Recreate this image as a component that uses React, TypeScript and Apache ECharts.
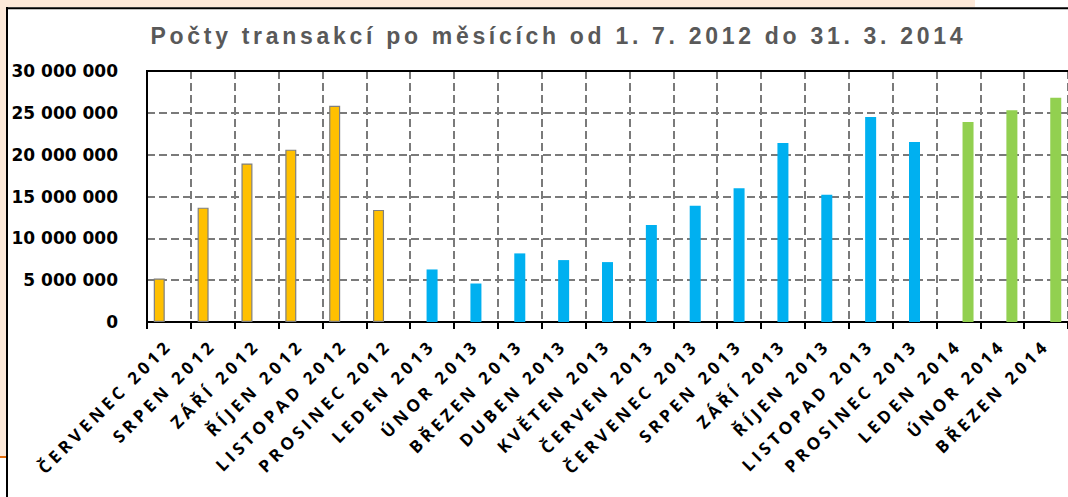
import React, { useEffect, useRef } from "react";
import * as echarts from "echarts";

const TITLE = "Počty transakcí po měsících od 1. 7. 2012 do 31. 3. 2014";

const categories = [
  "ČERVENEC 2012", "SRPEN 2012", "ZÁŘÍ 2012", "ŘÍJEN 2012", "LISTOPAD 2012", "PROSINEC 2012",
  "LEDEN 2013", "ÚNOR 2013", "BŘEZEN 2013", "DUBEN 2013", "KVĚTEN 2013", "ČERVEN 2013",
  "ČERVENEC 2013", "SRPEN 2013", "ZÁŘÍ 2013", "ŘÍJEN 2013", "LISTOPAD 2013", "PROSINEC 2013",
  "LEDEN 2014", "ÚNOR 2014", "BŘEZEN 2014",
];

// Jul–Dec 2012
const values2012 = [5200000, 13670000, 18950000, 20600000, 25850000, 13400000];
// Jan–Dec 2013
const values2013 = [6280000, 4600000, 8200000, 7400000, 7160000, 11600000, 13900000, 16000000, 21400000, 15200000, 24500000, 21500000];
// Jan–Mar 2014
const values2014 = [23900000, 25300000, 26800000];

const yTicks = [0, 5000000, 10000000, 15000000, 20000000, 25000000, 30000000];

const pad = (n: number) => Array(n).fill(null);

function fmt(v: number) {
  return String(v).replace(/\B(?=(\d{3})+(?!\d))/g, " ");
}

export default function App() {
  const ref = useRef<HTMLDivElement>(null);

  useEffect(() => {
    document.body.style.margin = "0";
    document.body.style.overflow = "hidden";
    if (!ref.current) return;
    const chart = echarts.init(ref.current, null, { renderer: "svg" });
    const n = categories.length;
    const s1 = [...values2012, ...pad(n - values2012.length)];
    const s2 = [...pad(values2012.length), ...values2013, ...pad(n - values2012.length - values2013.length)];
    const s3 = [...pad(n - values2014.length), ...values2014];

    chart.setOption({
      animation: false,
      backgroundColor: "#ffffff",
      graphic: [
        { type: "rect", shape: { x: 0, y: 0, width: 975, height: 7 }, style: { fill: "#fde9d9" }, silent: true },
        { type: "rect", shape: { x: 0, y: 0, width: 6, height: 456 }, style: { fill: "#fde9d9" }, silent: true },
        { type: "rect", shape: { x: 0, y: 456, width: 6, height: 2 }, style: { fill: "#e46c0a" }, silent: true },
        { type: "line", shape: { x1: 6, y1: 8.2, x2: 1068, y2: 8.2 }, style: { stroke: "#000000", lineWidth: 2 }, silent: true },
        { type: "line", shape: { x1: 7, y1: 7, x2: 7, y2: 497 }, style: { stroke: "#000000", lineWidth: 2 }, silent: true },
        { type: "line", shape: { x1: 146, y1: 71, x2: 1068, y2: 71 }, style: { stroke: "#000000", lineWidth: 2 }, silent: true, z: 10 },
        {
          type: "text",
          x: 556.5,
          y: 36,
          style: {
            text: TITLE,
            fill: "#595959",
            font: "bold 23px 'Liberation Sans', Arial, sans-serif",
            align: "center",
            verticalAlign: "middle",
          },
          silent: true,
        },
      ],
      grid: {
        left: 147,
        top: 71,
        width: 925.5,
        height: 251,
        show: false,
      },
      xAxis: {
        type: "category",
        data: categories,
        boundaryGap: true,
        axisLine: { show: true, lineStyle: { color: "#000000", width: 2 } },
        axisTick: { show: true, length: 7, lineStyle: { color: "#000000", width: 2 } },
        splitLine: { show: true, lineStyle: { color: "#7a7a7a", width: 2, type: [8, 4] } },
        axisLabel: {
          interval: 0,
          rotate: 45,
          margin: 20,
          color: "#000000",
          fontFamily: "'Open Sans', sans-serif",
          fontWeight: "bold",
          fontSize: 17,
        },
      },
      yAxis: {
        type: "value",
        min: yTicks[0],
        max: yTicks[yTicks.length - 1],
        interval: 5000000,
        axisLine: { show: true, lineStyle: { color: "#000000", width: 2 } },
        axisTick: { show: false },
        splitLine: { show: true, lineStyle: { color: "#7a7a7a", width: 2, type: [8, 4] } },
        axisLabel: {
          margin: 29,
          color: "#000000",
          fontFamily: "'DejaVu Sans', sans-serif",
          fontWeight: "bold",
          fontSize: 17,
          formatter: (v: number) => fmt(v),
        },
      },
      series: [
        {
          name: "2012",
          type: "bar",
          data: s1,
          barWidth: 11,
          barGap: "-12%",
          itemStyle: { color: "#ffc000", borderColor: "#7f7f7f", borderWidth: 1.2 },
        },
        {
          name: "2013",
          type: "bar",
          data: s2,
          barWidth: 11,
          barGap: "-12%",
          itemStyle: { color: "#00b0f0" },
        },
        {
          name: "2014",
          type: "bar",
          data: s3,
          barWidth: 11,
          barGap: "-12%",
          itemStyle: { color: "#92d050" },
        },
      ],
    });

    const tweak = () => {
      const root = ref.current;
      if (!root) return;
      const cats = new Set(categories);
      root.querySelectorAll("text").forEach((t) => {
        const c = t.textContent || "";
        if (c === TITLE) {
          t.setAttribute("textLength", "812");
          t.setAttribute("lengthAdjust", "spacing");
        } else if (cats.has(c)) {
          t.setAttribute("letter-spacing", "4px");
        }
      });
    };
    tweak();
    chart.on("finished", tweak);
    const timer = setTimeout(tweak, 50);

    return () => {
      clearTimeout(timer);
      chart.dispose();
    };
  }, []);

  return (
    <div
      ref={ref}
      style={{ position: "fixed", left: 0, top: 0, width: 1068, height: 497 }}
    />
  );
}
